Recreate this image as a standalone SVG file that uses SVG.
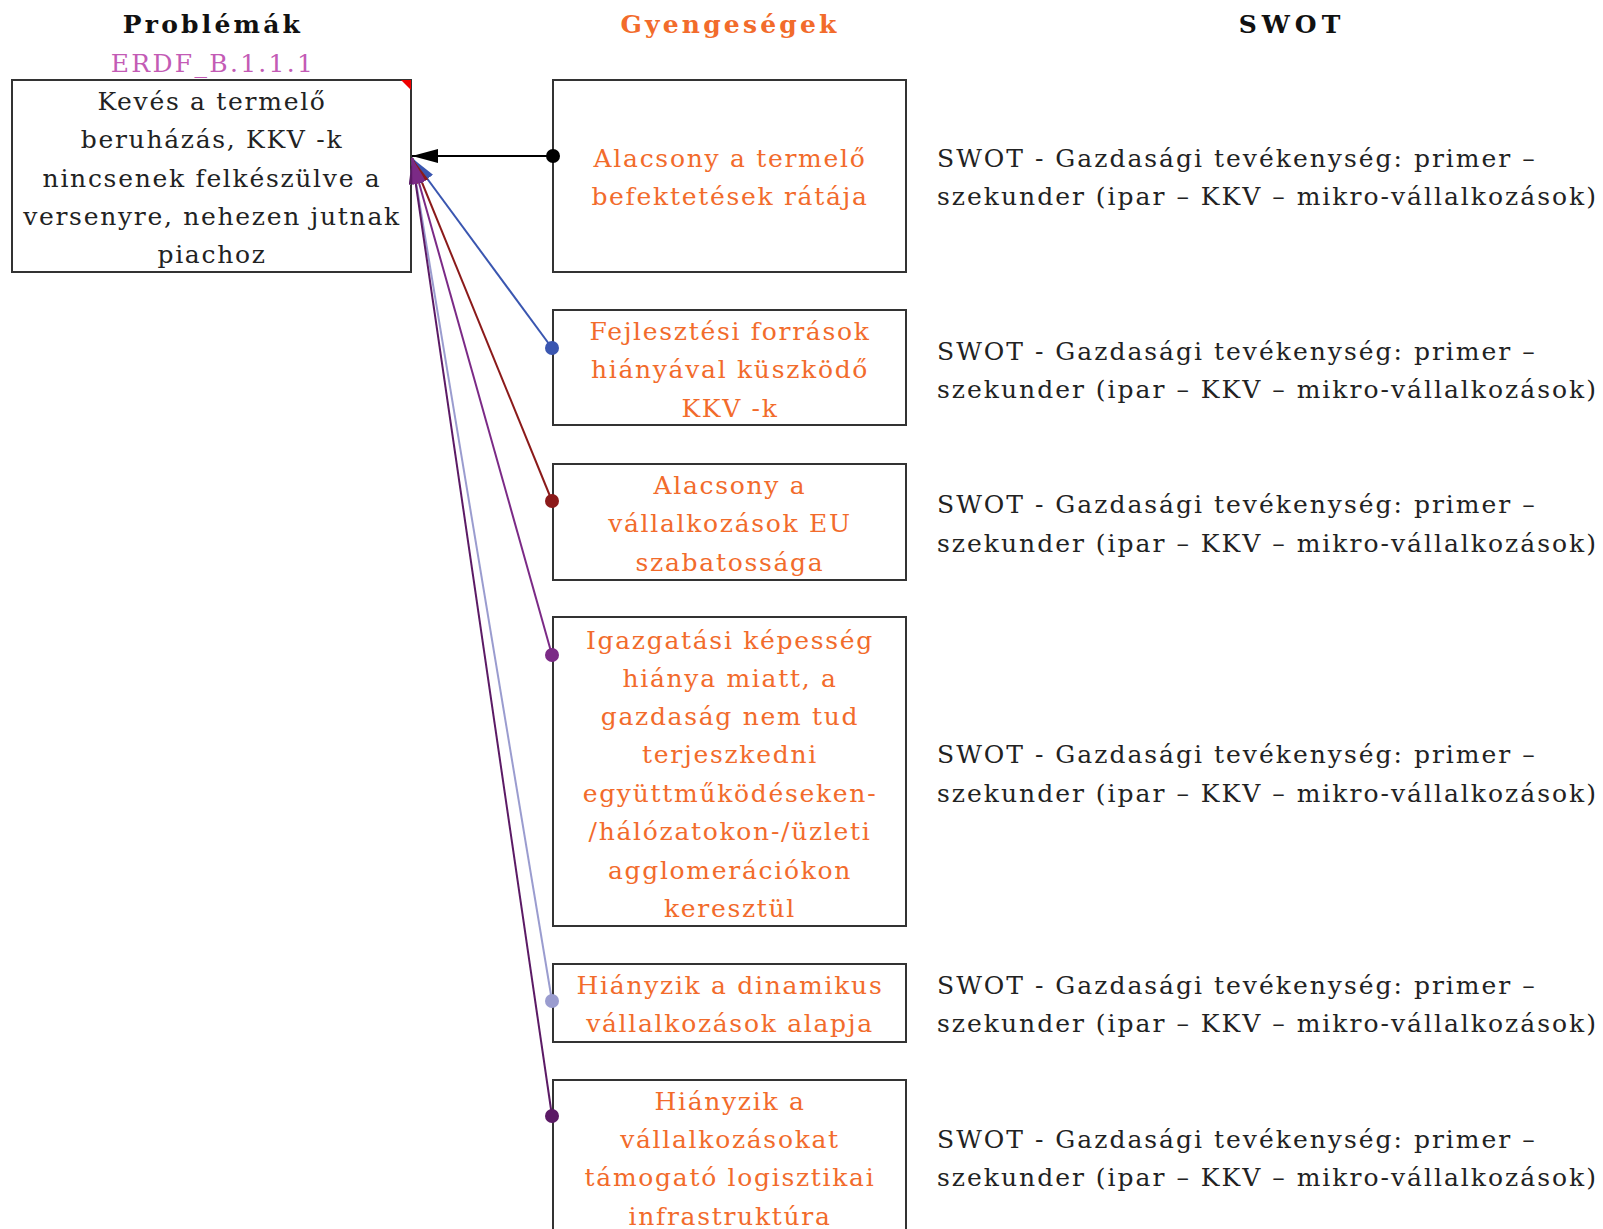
<svg xmlns="http://www.w3.org/2000/svg" width="1603" height="1229" viewBox="0 0 1603 1229">
<defs>
<style>
.box{fill:#fff;stroke:#333;stroke-width:2}
.t{font-family:"DejaVu Serif","Liberation Serif",serif;font-size:25px;letter-spacing:1.7px;dominant-baseline:central}
.s{letter-spacing:2px}
.c{text-anchor:middle}
.blk{fill:#222}
.org{fill:#F26B2B}
.hdr{font-family:"DejaVu Serif","Liberation Serif",serif;font-size:25px;font-weight:bold;letter-spacing:3.2px;text-anchor:middle;dominant-baseline:central}
.ln{fill:none;stroke-width:2}
</style>
<marker id="aK" viewBox="0 0 26 14" refX="26" refY="7" markerWidth="26" markerHeight="14" markerUnits="userSpaceOnUse" orient="auto"><path d="M0,0L26,7L0,14z" fill="#000"/></marker>
<marker id="aB" viewBox="0 0 26 14" refX="26" refY="7" markerWidth="26" markerHeight="14" markerUnits="userSpaceOnUse" orient="auto"><path d="M0,0L26,7L0,14z" fill="#3A56B0"/></marker>
<marker id="aR" viewBox="0 0 26 14" refX="26" refY="7" markerWidth="26" markerHeight="14" markerUnits="userSpaceOnUse" orient="auto"><path d="M0,0L26,7L0,14z" fill="#8B1A1A"/></marker>
<marker id="aP" viewBox="0 0 26 14" refX="26" refY="7" markerWidth="26" markerHeight="14" markerUnits="userSpaceOnUse" orient="auto"><path d="M0,0L26,7L0,14z" fill="#7B2A86"/></marker>
<marker id="aL" viewBox="0 0 26 14" refX="26" refY="7" markerWidth="26" markerHeight="14" markerUnits="userSpaceOnUse" orient="auto"><path d="M0,0L26,7L0,14z" fill="#9A9CCF"/></marker>
<marker id="aD" viewBox="0 0 26 14" refX="26" refY="7" markerWidth="26" markerHeight="14" markerUnits="userSpaceOnUse" orient="auto"><path d="M0,0L26,7L0,14z" fill="#5B1A65"/></marker>
</defs>
<rect width="1603" height="1229" fill="#fff"/>

<g id="headers">
<text class="hdr" x="213" y="24" fill="#111">Problémák</text>
<text class="hdr" x="730" y="24" fill="#F26B2B">Gyengeségek</text>
<text class="hdr" x="1292" y="24" fill="#111" style="letter-spacing:5px">SWOT</text>
<text class="t c" x="213" y="63" fill="#C35BB5" style="letter-spacing:2.3px">ERDF_B.1.1.1</text>
</g>

<g id="problem">
<rect class="box" x="12" y="80" width="399" height="192"/>
<path d="M401,80L411,80L411,90z" fill="#E00"/>
<text class="t c blk"><tspan x="212" y="101">Kevés a termelő</tspan><tspan x="212" y="139">beruházás, KKV -k</tspan><tspan x="212" y="178">nincsenek felkészülve a</tspan><tspan x="212" y="216">versenyre, nehezen jutnak</tspan><tspan x="212" y="254">piachoz</tspan></text>
</g>

<g id="w1">
<rect class="box" x="553" y="80" width="353" height="192"/>
<text class="t c org"><tspan x="730" y="158">Alacsony a termelő</tspan><tspan x="730" y="196">befektetések rátája</tspan></text>
</g>
<g id="w2">
<rect class="box" x="553" y="310" width="353" height="115"/>
<text class="t c org"><tspan x="730" y="331">Fejlesztési források</tspan><tspan x="730" y="369">hiányával küszködő</tspan><tspan x="730" y="408">KKV -k</tspan></text>
</g>
<g id="w3">
<rect class="box" x="553" y="464" width="353" height="116"/>
<text class="t c org"><tspan x="730" y="485">Alacsony a</tspan><tspan x="730" y="523">vállalkozások EU</tspan><tspan x="730" y="562">szabatossága</tspan></text>
</g>
<g id="w4">
<rect class="box" x="553" y="617" width="353" height="309"/>
<text class="t c org"><tspan x="730" y="640">Igazgatási képesség</tspan><tspan x="730" y="678">hiánya miatt, a</tspan><tspan x="730" y="716">gazdaság nem tud</tspan><tspan x="730" y="754">terjeszkedni</tspan><tspan x="730" y="793">együttműködéseken-</tspan><tspan x="730" y="831">/hálózatokon-/üzleti</tspan><tspan x="730" y="870">agglomerációkon</tspan><tspan x="730" y="908">keresztül</tspan></text>
</g>
<g id="w5">
<rect class="box" x="553" y="964" width="353" height="78"/>
<text class="t c org"><tspan x="730" y="985">Hiányzik a dinamikus</tspan><tspan x="730" y="1023">vállalkozások alapja</tspan></text>
</g>
<g id="w6">
<rect class="box" x="553" y="1080" width="353" height="170"/>
<text class="t c org"><tspan x="730" y="1101">Hiányzik a</tspan><tspan x="730" y="1139">vállalkozásokat</tspan><tspan x="730" y="1177">támogató logisztikai</tspan><tspan x="730" y="1216">infrastruktúra</tspan></text>
</g>

<g id="swot">
<text class="t s blk"><tspan x="937" y="158">SWOT - Gazdasági tevékenység: primer –</tspan><tspan x="937" y="196">szekunder (ipar – KKV – mikro-vállalkozások)</tspan></text>
<text class="t s blk"><tspan x="937" y="351">SWOT - Gazdasági tevékenység: primer –</tspan><tspan x="937" y="389">szekunder (ipar – KKV – mikro-vállalkozások)</tspan></text>
<text class="t s blk"><tspan x="937" y="504">SWOT - Gazdasági tevékenység: primer –</tspan><tspan x="937" y="543">szekunder (ipar – KKV – mikro-vállalkozások)</tspan></text>
<text class="t s blk"><tspan x="937" y="754">SWOT - Gazdasági tevékenység: primer –</tspan><tspan x="937" y="793">szekunder (ipar – KKV – mikro-vállalkozások)</tspan></text>
<text class="t s blk"><tspan x="937" y="985">SWOT - Gazdasági tevékenység: primer –</tspan><tspan x="937" y="1023">szekunder (ipar – KKV – mikro-vállalkozások)</tspan></text>
<text class="t s blk"><tspan x="937" y="1139">SWOT - Gazdasági tevékenység: primer –</tspan><tspan x="937" y="1177">szekunder (ipar – KKV – mikro-vállalkozások)</tspan></text>
</g>

<g id="connectors">
<line class="ln" x1="553" y1="156" x2="412" y2="156" stroke="#000" marker-end="url(#aK)"/>
<circle cx="553" cy="156" r="7" fill="#000"/>
<line class="ln" x1="552" y1="348" x2="412" y2="158" stroke="#3A56B0" marker-end="url(#aB)"/>
<circle cx="552" cy="348" r="7" fill="#3A56B0"/>
<line class="ln" x1="552" y1="501" x2="412" y2="158" stroke="#8B1A1A" marker-end="url(#aR)"/>
<circle cx="552" cy="501" r="7" fill="#8B1A1A"/>
<line class="ln" x1="552" y1="1001" x2="412" y2="158" stroke="#9A9CCF" marker-end="url(#aL)"/>
<circle cx="552" cy="1001" r="7" fill="#9A9CCF"/>
<line class="ln" x1="552" y1="1116" x2="412" y2="158" stroke="#5B1A65" marker-end="url(#aD)"/>
<circle cx="552" cy="1116" r="7" fill="#5B1A65"/>
<line class="ln" x1="552" y1="655" x2="412" y2="158" stroke="#7B2A86" marker-end="url(#aP)"/>
<circle cx="552" cy="655" r="7" fill="#7B2A86"/>
</g>
</svg>
